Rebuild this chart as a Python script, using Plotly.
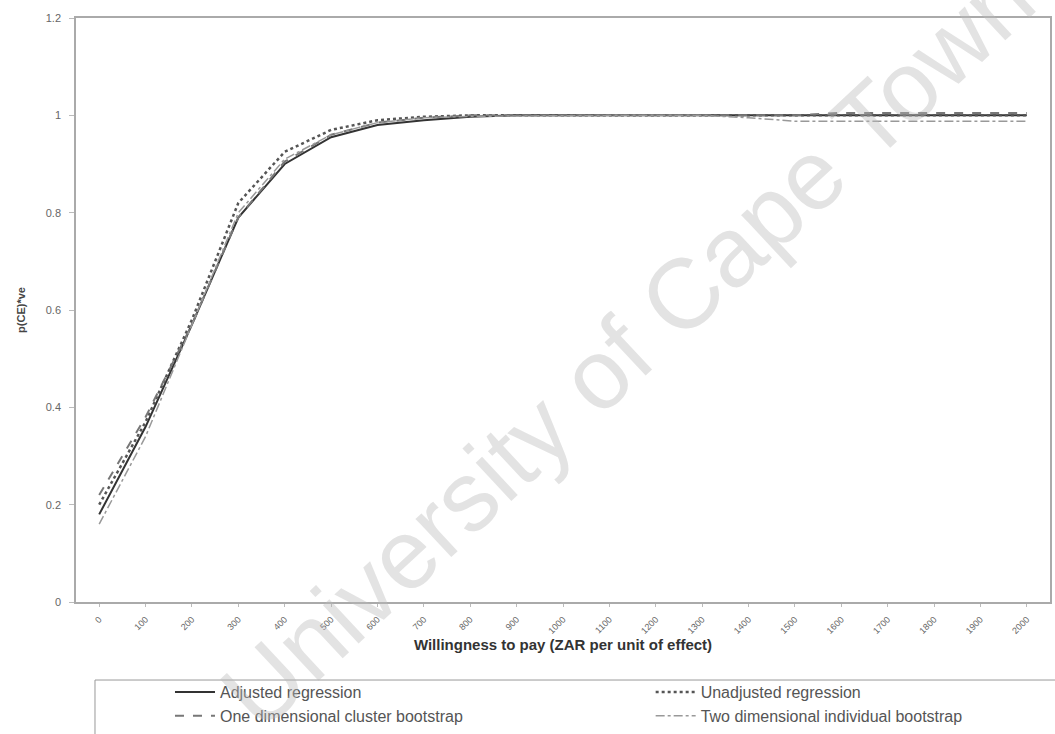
import plotly.graph_objects as go

wtp = [str(v) for v in range(0, 2001, 100)]
adjusted = [0.18, 0.36, 0.57, 0.79, 0.90, 0.955, 0.98, 0.99, 0.997, 1.0, 1.0,
            1.0, 1.0, 1.0, 1.0, 1.0, 1.0, 1.0, 1.0, 1.0, 1.0]
unadjusted = [0.20, 0.37, 0.58, 0.82, 0.925, 0.97, 0.99, 0.997, 1.0, 1.0, 1.0,
              1.0, 1.0, 1.0, 1.0, 1.0, 1.0, 1.0, 1.0, 1.0, 1.0]
one_dim = [0.22, 0.38, 0.57, 0.79, 0.905, 0.96, 0.985, 0.995, 1.0, 1.0, 1.0,
           1.0, 1.0, 1.0, 1.0, 1.0, 1.005, 1.005, 1.005, 1.005, 1.005]
two_dim = [0.16, 0.34, 0.57, 0.80, 0.91, 0.96, 0.985, 0.995, 0.998, 0.999, 1.0,
           1.0, 1.0, 1.0, 0.995, 0.988, 0.988, 0.988, 0.988, 0.988, 0.988]

fig = go.Figure()
fig.add_trace(go.Scatter(x=wtp, y=adjusted, mode="lines", name="Adjusted regression",
                         legend="legend",
                         line=dict(color="#333333", width=2, dash="solid")))
fig.add_trace(go.Scatter(x=wtp, y=unadjusted, mode="lines", name="Unadjusted regression",
                         legend="legend2",
                         line=dict(color="#555555", width=2.5, dash="dot")))
fig.add_trace(go.Scatter(x=wtp, y=one_dim, mode="lines", name="One dimensional cluster bootstrap",
                         legend="legend",
                         line=dict(color="#777777", width=2, dash="dash")))
fig.add_trace(go.Scatter(x=wtp, y=two_dim, mode="lines", name="Two dimensional individual bootstrap",
                         legend="legend2",
                         line=dict(color="#999999", width=1.5, dash="dashdot")))

legend_style = dict(orientation="v", yref="container", yanchor="top", y=0.0804,
                    xanchor="left",
                    borderwidth=0, bgcolor="rgba(0,0,0,0)", itemwidth=40,
                    font=dict(size=16, color="#555555"), tracegroupgap=0)

fig.update_layout(
    width=1055, height=734,
    margin=dict(l=76, r=5, t=18, b=132),
    paper_bgcolor="white", plot_bgcolor="white",
    font=dict(family="Liberation Sans, Arial, sans-serif", color="#444444"),
    xaxis=dict(type="category", range=[-0.5, 20.5], automargin=False,
               tickangle=-45, tickfont=dict(size=9, color="#666666"),
               ticklabelstandoff=4,
               showgrid=False, showline=True, linecolor="#aaaaaa", linewidth=1.5,
               mirror=True, ticks="outside", ticklen=3, tickcolor="#bbbbbb",
               title=dict(text="<b>Willingness to pay (ZAR per unit of effect)</b>",
                          font=dict(size=15, color="#333333"), standoff=4)),
    yaxis=dict(range=[0, 1.2], automargin=False,
               tickvals=[0, 0.2, 0.4, 0.6, 0.8, 1, 1.2],
               ticktext=["0", "0.2", "0.4", "0.6", "0.8", "1", "1.2"],
               tickfont=dict(size=11, color="#666666"), ticklabelstandoff=6,
               showgrid=False, zeroline=False, showline=True, linecolor="#aaaaaa",
               linewidth=1.5, mirror=True, ticks="outside", ticklen=5, tickcolor="#bbbbbb",
               title=dict(text="<b>p(CE)*ve</b>", font=dict(size=11, color="#444444"), standoff=18)),
    legend=dict(legend_style, x=0.0965),
    legend2=dict(legend_style, x=0.590),
    showlegend=True,
)

# legend frame
fig.add_shape(type="rect", xref="paper", yref="paper",
              x0=0.0195, x1=1.02, y0=-0.30, y1=-0.1336,
              line=dict(color="#999999", width=1), fillcolor="rgba(0,0,0,0)")

fig.add_annotation(text="University of Cape Town", xref="paper", yref="paper",
                   x=0.566, y=0.44, showarrow=False, textangle=-43,
                   font=dict(size=99, color="rgba(185,185,185,0.4)",
                             family="Liberation Sans, Arial, sans-serif"))

fig.write_html("out.html", config={"displayModeBar": False},
               post_script="document.body.style.margin='0px';")
